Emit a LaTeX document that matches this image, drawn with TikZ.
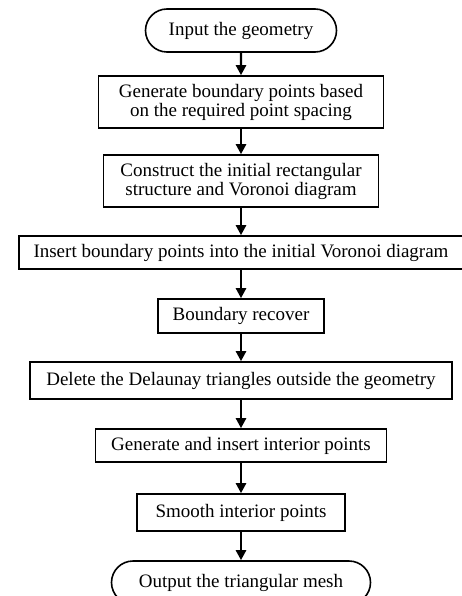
\documentclass[tikz,border=0pt]{standalone}
\usepackage{fontspec}
\setmainfont{Liberation Serif}
\usetikzlibrary{arrows.meta,shapes}

\begin{document}
\begin{tikzpicture}[x=1pt,y=-1pt,font=\fontsize{19}{19}\selectfont,
  stepbox/.style={draw,line width=1.6pt,inner sep=0pt,align=center},
  termbox/.style={draw,rounded rectangle,line width=1.6pt,inner sep=0pt},
  flow/.style={-{Triangle[length=10pt,width=10pt]},line width=2.4pt}]
\useasboundingbox (0,0) rectangle (462,596);
%terminals
\node[termbox,minimum width=191pt,minimum height=43pt] (start) at (241,30.5) {Input the geometry};
\node[termbox,minimum width=259pt,minimum height=43pt] (stop) at (241,582.5) {Output the triangular mesh};
%steps
\node[stepbox,minimum width=285pt,minimum height=52pt] (bpts) at (241,102) {Generate boundary points based\\on the required point spacing};
\node[stepbox,minimum width=275pt,minimum height=52pt] (voro) at (241,181) {Construct the initial rectangular\\structure and Voronoi diagram};
\node[stepbox,minimum width=444pt,minimum height=33pt] (insert) at (241,252.5) {Insert boundary points into the initial Voronoi diagram};
\node[stepbox,minimum width=166pt,minimum height=34pt] (recover) at (241,316) {Boundary recover};
\node[stepbox,minimum width=422pt,minimum height=37pt] (delete) at (241,380.5) {Delete the Delaunay triangles outside the geometry};
\node[stepbox,minimum width=291pt,minimum height=33pt] (interior) at (241,445.5) {Generate and insert interior points};
\node[stepbox,minimum width=208pt,minimum height=37pt] (smooth) at (241,512.5) {Smooth interior points};
%flow
\draw[flow] (start) -- (bpts);
\draw[flow] (bpts) -- (voro);
\draw[flow] (voro) -- (insert);
\draw[flow] (insert) -- (recover);
\draw[flow] (recover) -- (delete);
\draw[flow] (delete) -- (interior);
\draw[flow] (interior) -- (smooth);
\draw[flow] (smooth) -- (stop);
\end{tikzpicture}
\end{document}
